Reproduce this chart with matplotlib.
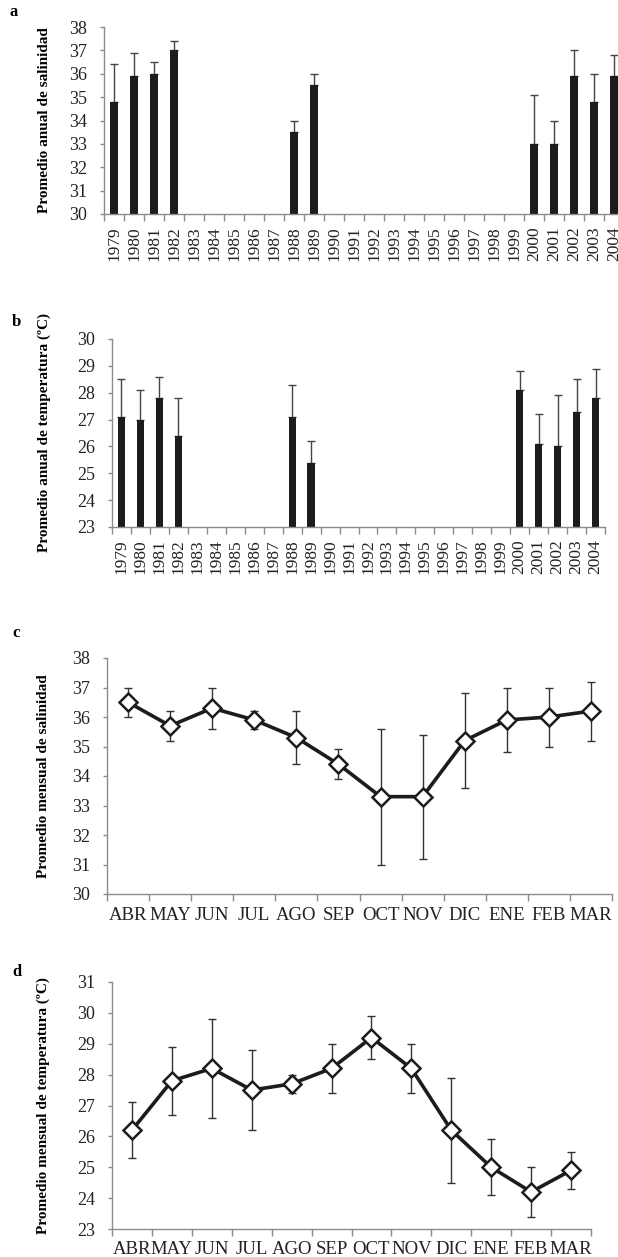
import numpy as np
import matplotlib
matplotlib.use("Agg")
import matplotlib.pyplot as plt

plt.rcParams['font.family'] = ['Liberation Serif', 'DejaVu Serif']

years = [str(y) for y in range(1979, 2005)]
nan = np.nan

# annual salinity (panel a) and its upper error
sal_year = [34.8, 35.9, 36.0, 37.0, nan, nan, nan, nan, nan, 33.5, 35.5, nan, nan,
            nan, nan, nan, nan, nan, nan, nan, nan, 33.0, 33.0, 35.9, 34.8, 35.9]
sal_year_top = [36.4, 36.9, 36.5, 37.4, nan, nan, nan, nan, nan, 34.0, 36.0, nan, nan,
                nan, nan, nan, nan, nan, nan, nan, nan, 35.1, 34.0, 37.0, 36.0, 36.8]

# annual temperature (panel b)
tmp_year = [27.1, 27.0, 27.8, 26.4, nan, nan, nan, nan, nan, 27.1, 25.4, nan, nan,
            nan, nan, nan, nan, nan, nan, nan, nan, 28.1, 26.1, 26.0, 27.3, 27.8]
tmp_year_top = [28.5, 28.1, 28.6, 27.8, nan, nan, nan, nan, nan, 28.3, 26.2, nan, nan,
                nan, nan, nan, nan, nan, nan, nan, nan, 28.8, 27.2, 27.9, 28.5, 28.9]

months = ['ABR', 'MAY', 'JUN', 'JUL', 'AGO', 'SEP', 'OCT', 'NOV', 'DIC', 'ENE', 'FEB', 'MAR']

# monthly salinity (panel c)
sal_month = [36.5, 35.7, 36.3, 35.9, 35.3, 34.4, 33.3, 33.3, 35.2, 35.9, 36.0, 36.2]
sal_month_lo = [36.0, 35.2, 35.6, 35.6, 34.4, 33.9, 31.0, 31.2, 33.6, 34.8, 35.0, 35.2]
sal_month_hi = [37.0, 36.2, 37.0, 36.2, 36.2, 34.9, 35.6, 35.4, 36.8, 37.0, 37.0, 37.2]

# monthly temperature (panel d)
tmp_month = [26.2, 27.8, 28.2, 27.5, 27.7, 28.2, 29.2, 28.2, 26.2, 25.0, 24.2, 24.9]
tmp_month_lo = [25.3, 26.7, 26.6, 26.2, 27.4, 27.4, 28.5, 27.4, 24.5, 24.1, 23.4, 24.3]
tmp_month_hi = [27.1, 28.9, 29.8, 28.8, 28.0, 29.0, 29.9, 29.0, 27.9, 25.9, 25.0, 25.5]

W, H = 618, 1257
fig = plt.figure(figsize=(W / 100, H / 100), dpi=100)


def box(left, right, top, bottom):
    return [left / W, 1 - bottom / H, (right - left) / W, (bottom - top) / H]


def style_axes(ax, n):
    for s in ['top', 'right']:
        ax.spines[s].set_visible(False)
    for s in ['left', 'bottom']:
        ax.spines[s].set_color('#8c8c8c')
        ax.spines[s].set_linewidth(1.0)
    ax.set_xlim(-0.5, n - 0.5)
    ax.set_xticks(np.arange(n))
    ax.set_xticks(np.arange(n + 1) - 0.5, minor=True)
    ax.tick_params(axis='x', which='major', length=0, pad=9)
    ax.tick_params(axis='x', which='minor', length=5, color='#8c8c8c', width=1.0)
    ax.tick_params(axis='y', length=3, color='#8c8c8c', width=1.0, labelsize=13,
                   labelcolor='#222222', pad=9)


def finish(ax, rect, ylim, ylabel, label_x, letter, lx, ly):
    ax.set_ylim(*ylim)
    ax.set_yticks(np.arange(ylim[0], ylim[1] + 1))
    ax.set_ylabel(ylabel, fontsize=11, fontweight='bold')
    left_px = rect[0] * W
    width_px = rect[2] * W
    ax.yaxis.set_label_coords((label_x - left_px) / width_px, 0.5)
    fig.text(lx / W, 1 - ly / H, letter, fontsize=12, fontweight='bold', ha='left', va='center')


def bar_panel(rect, vals, tops, ylim, ylabel, label_x, letter, lx, ly):
    ax = fig.add_axes(rect)
    x = np.arange(len(years))
    v = np.array(vals)
    t = np.array(tops)
    ok = ~np.isnan(v)
    ax.bar(x[ok], v[ok], width=0.38, color='#1c1c1c', zorder=2)
    ax.errorbar(x[ok], v[ok], yerr=[np.zeros(ok.sum()), t[ok] - v[ok]], fmt='none',
                ecolor='#444444', elinewidth=1.0, capsize=3, capthick=1.0, zorder=1)
    style_axes(ax, len(years))
    ax.set_xticklabels(years, rotation=90, fontsize=12.5, color='#222222')
    finish(ax, rect, ylim, ylabel, label_x, letter, lx, ly)
    return ax


def line_panel(rect, vals, lo, hi, ylim, ylabel, label_x, letter, lx, ly):
    ax = fig.add_axes(rect)
    x = np.arange(len(months))
    v = np.array(vals)
    ax.errorbar(x, v, yerr=[v - np.array(lo), np.array(hi) - v], fmt='none',
                ecolor='#333333', elinewidth=1.0, capsize=3, capthick=1.0, zorder=1)
    ax.plot(x, v, color='#1c1c1c', lw=2.6, marker='D', markersize=9,
            markerfacecolor='white', markeredgecolor='#1c1c1c', markeredgewidth=1.8, zorder=3)
    style_axes(ax, len(months))
    ax.set_xticklabels(months, fontsize=13.5, color='#222222')
    ax.tick_params(axis='x', which='major', pad=9)
    finish(ax, rect, ylim, ylabel, label_x, letter, lx, ly)
    return ax


ra = box(104, 104 + 26 * 20, 27, 214)
bar_panel(ra, sal_year, sal_year_top, (30, 38),
          'Promedio anual de salinidad', 51, 'a', 10, 12)
rb = box(112, 605, 339, 527)
bar_panel(rb, tmp_year, tmp_year_top, (23, 30),
          'Promedio anual de temperatura (ºC)', 51, 'b', 12, 322)
rc = box(107, 612, 658, 894)
line_panel(rc, sal_month, sal_month_lo, sal_month_hi, (30, 38),
           'Promedio mensual de salinidad', 50, 'c', 12, 633)
rd = box(112, 591, 982, 1229)
line_panel(rd, tmp_month, tmp_month_lo, tmp_month_hi, (23, 31),
           'Promedio mensual de temperatura (ºC)', 50, 'd', 12, 972)

fig.savefig('out.png', dpi=100)
